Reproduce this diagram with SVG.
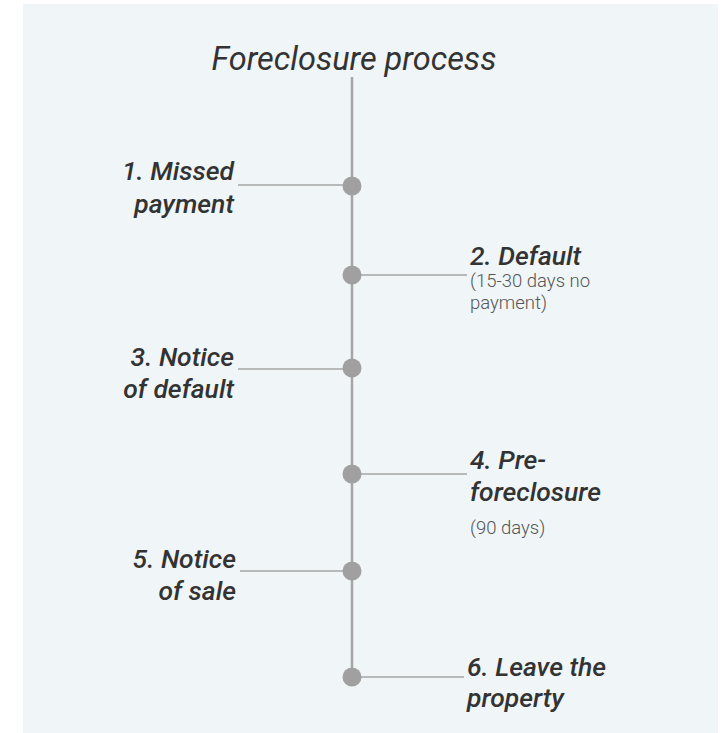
<svg xmlns="http://www.w3.org/2000/svg" width="723" height="733" viewBox="0 0 723 733">
<style>
.t{font-family:Roboto,"Liberation Sans",sans-serif;font-style:italic;font-weight:500;font-size:26.5px;fill:#333}
.title{font-family:Roboto,"Liberation Sans",sans-serif;font-style:italic;font-size:32.5px;fill:#333}
.s{font-family:Roboto,"Liberation Sans",sans-serif;font-weight:300;font-size:18.5px;fill:#555}
.c{stroke:#a6a6a6;stroke-width:1.3;fill:none}
.dot{fill:#a0a0a0}
</style>
<rect x="23" y="4" width="695" height="729" fill="#f0f5f8"/>
<text class="title" x="354" y="70" text-anchor="middle">Foreclosure process</text>
<g id="connectors">
<line x1="352" y1="77" x2="352" y2="677" stroke="#a6a6a6" stroke-width="2.5"/>
<line class="c" x1="238" y1="185" x2="352" y2="185"/>
<line class="c" x1="352" y1="275" x2="467" y2="275"/>
<line class="c" x1="238" y1="369" x2="352" y2="369"/>
<line class="c" x1="352" y1="474" x2="467" y2="474"/>
<line class="c" x1="240" y1="571" x2="352" y2="571"/>
<line class="c" x1="352" y1="677" x2="464" y2="677"/>
</g>
<g id="n1"><circle class="dot" cx="352" cy="186" r="9.5"/><text class="t" x="234" y="180" text-anchor="end">1. Missed</text><text class="t" x="234" y="213" text-anchor="end">payment</text></g>
<g id="n2"><circle class="dot" cx="352" cy="275" r="9.5"/><text class="t" x="470" y="265">2. Default</text><text class="s" x="470" y="287">(15-30 days no</text><text class="s" x="470" y="309">payment)</text></g>
<g id="n3"><circle class="dot" cx="352" cy="368" r="9.5"/><text class="t" x="234" y="366" text-anchor="end">3. Notice</text><text class="t" x="234" y="398" text-anchor="end">of default</text></g>
<g id="n4"><circle class="dot" cx="352" cy="474" r="9.5"/><text class="t" x="470" y="469">4. Pre-</text><text class="t" x="470" y="501">foreclosure</text><text class="s" x="470" y="534">(90 days)</text></g>
<g id="n5"><circle class="dot" cx="352" cy="571" r="9.5"/><text class="t" x="236" y="568" text-anchor="end">5. Notice</text><text class="t" x="236" y="600" text-anchor="end">of sale</text></g>
<g id="n6"><circle class="dot" cx="352" cy="677" r="9.5"/><text class="t" x="467" y="676">6. Leave the</text><text class="t" x="467" y="707">property</text></g>
</svg>
